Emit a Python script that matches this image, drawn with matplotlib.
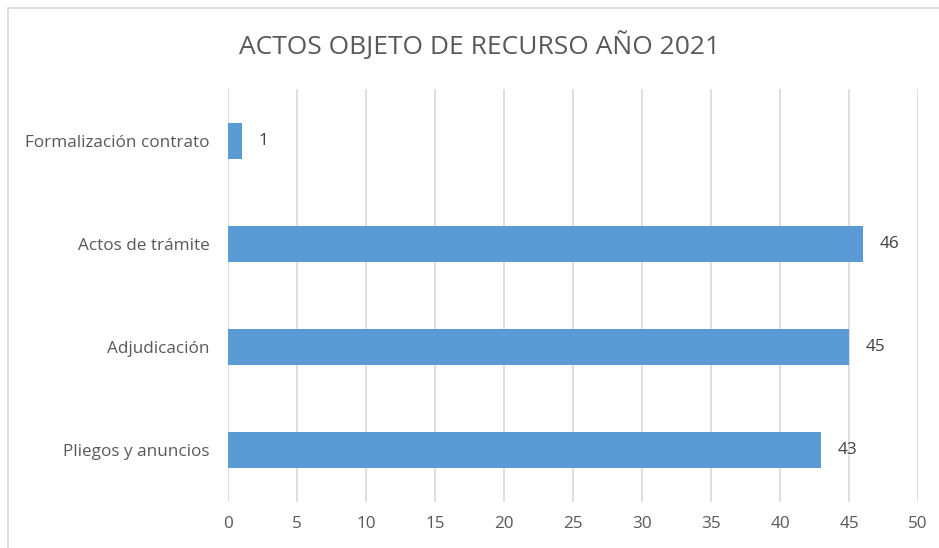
import matplotlib
matplotlib.use("Agg")
import matplotlib.pyplot as plt
from matplotlib.patches import Rectangle

categories = ["Pliegos y anuncios", "Adjudicación", "Actos de trámite", "Formalización contrato"]
values = [43, 45, 46, 1]
xticks = [0, 5, 10, 15, 20, 25, 30, 35, 40, 45, 50]
title = "ACTOS OBJETO DE RECURSO AÑO 2021"

plt.rcParams['font.family'] = ['Open Sans', 'DejaVu Sans']
W, H = 939, 548
fig = plt.figure(figsize=(W/100, H/100), dpi=100)
fig.patch.set_facecolor('white')

# chart border
fig.patches.append(Rectangle((8/W, -0.1), 1.1, (H-8)/H + 0.1, transform=fig.transFigure,
                             fill=False, edgecolor='#d9d9d9', linewidth=1.2))

left, right = 228/W, 918/W
bottom, top = 1 - 502/H, 1 - 89/H
ax = fig.add_axes([left, bottom, right-left, top-bottom])
ax.barh(range(len(categories)), values, height=0.35, color='#5b9bd5', zorder=3)
ax.set_xlim(0, 50)
ax.set_ylim(-0.5, len(categories)-0.5)
ax.set_xticks(xticks)
ax.set_yticks(range(len(categories)))
ax.set_yticklabels(categories)
ax.grid(axis='x', color='#d9d9d9', linewidth=1.2, zorder=0)
for s in ax.spines.values():
    s.set_visible(False)
ax.tick_params(axis='both', length=0, labelsize=12.3, colors='#595959')
ax.tick_params(axis='x', pad=10)
ax.tick_params(axis='y', pad=13)
for i, v in enumerate(values):
    ax.text(v + 1.2, i, str(v), va='center', ha='left', fontsize=12.3, color='#404040')

fig.text(480/W, 1 - 46/H, title, ha='center', va='center', fontsize=19, color='#595959')
fig.savefig('out.png', dpi=100)
